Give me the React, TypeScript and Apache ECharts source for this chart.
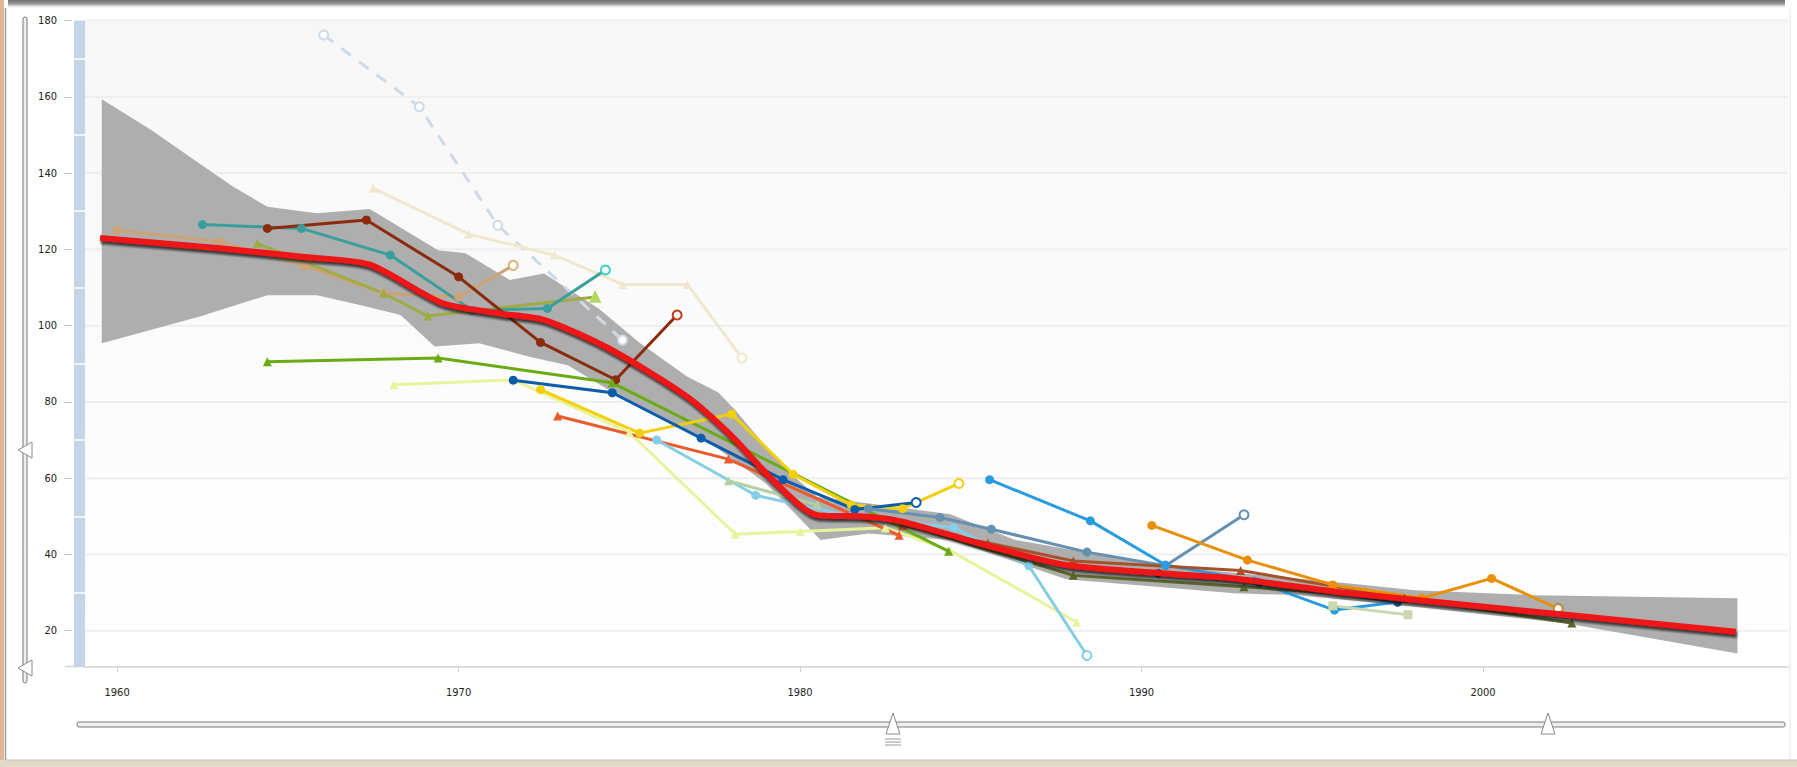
import React, { useEffect, useRef } from "react";
import * as echarts from "echarts";

// ---------- axis ranges & ticks ----------
const X_MIN = 1959.06;
const X_MAX = 2008.93;
const Y_MIN = 10.6;
const Y_MAX = 180;
const xTickYears = [1960, 1970, 1980, 1990, 2000];
const yTickValues = [20, 40, 60, 80, 100, 120, 140, 160, 180];
const barSeparatorValues = [30, 50, 70, 90, 110, 130, 150, 170];

// ---------- confidence band ----------
const bandUpper = [
  [1959.55, 159.4], [1961.0, 151.3], [1962.4, 142.6], [1963.4, 136.4], [1964.4, 131.2],
  [1965.85, 129.5], [1967.4, 130.6], [1969.4, 119.8], [1970.2, 119.0], [1971.5, 112.0],
  [1972.5, 113.7], [1974.1, 104.5], [1975.3, 95.5], [1976.7, 86.6], [1977.6, 82.5],
  [1978.1, 77.9], [1979.5, 63.0], [1980.5, 55.1], [1983.25, 51.9], [1984.4, 50.5],
  [1986.3, 43.8], [1990.7, 36.8], [1996.1, 32.4], [1998.0, 30.6], [2001.5, 29.3],
  [2007.45, 28.5],
];
const bandLower = [
  [1959.55, 95.4], [1962.4, 102.3], [1964.4, 108.0], [1965.85, 108.0], [1967.3, 105.0],
  [1968.3, 102.8], [1969.3, 94.5], [1970.6, 95.4], [1972.1, 91.8], [1973.2, 89.6],
  [1974.4, 83.1], [1977.1, 70.9], [1979.0, 58.6], [1980.6, 43.8], [1982.0, 45.5],
  [1984.4, 43.8], [1987.8, 33.5], [1992.7, 29.8], [1994.6, 29.3], [1998.0, 26.3],
  [2002.45, 21.9], [2007.45, 14.0],
];

// ---------- mean curve ----------
const meanCurve = [
  [1959.5, 123.0], [1963.0, 120.3], [1965.5, 118.0], [1967.4, 116.0], [1969.5, 106.0],
  [1971.2, 103.2], [1972.5, 101.5], [1974.4, 94.0], [1976.7, 81.3], [1978.0, 71.0],
  [1979.2, 59.5], [1980.5, 50.3], [1982.0, 49.9], [1983.0, 48.6], [1985.4, 42.5],
  [1987.8, 37.2], [1990.7, 35.0], [1992.7, 33.7], [1994.6, 31.5], [1996.1, 29.8],
  [2002.5, 24.1], [2007.4, 19.7],
];

// ---------- individual series ----------
const tanSeries = [[1960.0, 125.0], [1963.0, 122.0], [1965.5, 115.7], [1967.8, 108.5], [1970.0, 107.5], [1971.6, 115.8]];
const oliveSeries = [[1964.1, 121.6], [1967.8, 108.5], [1969.1, 102.5], [1974.0, 107.5]];
const tealSeries = [[1962.5, 126.5], [1965.4, 125.5], [1968.0, 118.5], [1970.4, 104.0], [1972.6, 104.5], [1974.3, 114.6]];
const maroonSeries = [[1964.4, 125.5], [1967.3, 127.7], [1970.0, 112.8], [1972.4, 95.6], [1974.6, 85.8], [1976.4, 102.8]];
const beigeSeries = [[1967.5, 136.0], [1970.3, 124.0], [1972.8, 118.5], [1974.8, 110.8], [1976.7, 110.8], [1978.3, 91.5]];
const dashedSeries = [[1966.05, 176.2], [1968.85, 157.4], [1971.15, 126.3], [1974.8, 96.2]];
const greenSeries = [[1964.4, 90.5], [1969.4, 91.5], [1974.5, 85.0], [1984.35, 40.8]];
const blueSeries = [[1971.6, 85.7], [1974.5, 82.4], [1977.1, 70.5], [1979.5, 59.6], [1981.6, 51.8], [1983.4, 53.6]];
const yellowSeries = [[1972.4, 83.2], [1975.3, 71.8], [1978.0, 76.8], [1979.8, 61.0], [1981.5, 53.0], [1983.0, 52.0], [1984.65, 58.6]];
const orangeRedSeries = [[1972.9, 76.3], [1977.9, 65.0], [1982.9, 45.0]];
const lightCyanSeries = [[1975.8, 70.0], [1978.7, 55.5], [1981.5, 50.0], [1984.5, 47.0], [1986.7, 37.0], [1988.4, 13.5]];
const paleGreenSeries = [[1968.1, 84.5], [1971.6, 85.8], [1975.0, 72.0], [1978.1, 45.3], [1980.0, 46.0], [1982.5, 47.0], [1984.4, 41.0], [1988.1, 22.2]];
const sageSeries = [[1977.9, 59.3], [1980.5, 53.0]];
const steelSeries = [[1982.0, 52.0], [1984.1, 49.7], [1985.6, 46.6], [1988.4, 40.6], [1990.7, 37.0], [1993.0, 50.4]];
const brightBlueSeries = [[1985.55, 59.6], [1988.5, 48.8], [1990.7, 37.2], [1993.3, 33.0], [1995.65, 25.4], [1997.5, 27.5]];
const orangeSeries = [[1990.3, 47.6], [1993.1, 38.5], [1995.6, 32.0], [1998.2, 28.5], [2000.25, 33.7], [2002.2, 25.8]];
const brownSeries = [[1983.0, 47.5], [1985.5, 43.0], [1988.0, 38.3], [1992.9, 35.8], [1997.7, 28.5]];
const darkOliveSeries = [[1983.0, 48.0], [1988.0, 34.5], [1993.0, 31.5], [1997.7, 28.5], [2002.6, 22.0]];
const navySeries = [[1990.5, 35.0], [1993.45, 32.5], [1997.5, 27.5]];
const paleSageSeries = [[1995.6, 26.5], [1997.8, 24.2]];

type Def = {
  name: string;
  data: number[][];
  color: string;
  symbol: string;
  openEnd?: boolean;
  endColor?: string;
  dashed?: boolean;
  width?: number;
  size?: number;
};

const defs: Def[] = [
  { name: "dashed", data: dashedSeries, color: "#cddbe8", symbol: "emptyCircle", dashed: true, openEnd: true },
  { name: "beige", data: beigeSeries, color: "#f0e8cc", symbol: "triangle", openEnd: true },
  { name: "tan", data: tanSeries, color: "#cba377", symbol: "circle", openEnd: true, endColor: "#dcb27a" },
  { name: "olive", data: oliveSeries, color: "#9fab45", symbol: "triangle", endColor: "#b5d860" },
  { name: "teal", data: tealSeries, color: "#3a9f9c", symbol: "circle", openEnd: true, endColor: "#3fd0c2" },
  { name: "maroon", data: maroonSeries, color: "#8c2a0c", symbol: "circle", openEnd: true, endColor: "#c43a18" },
  { name: "paleGreen", data: paleGreenSeries, color: "#e9f39e", symbol: "triangle" },
  { name: "green", data: greenSeries, color: "#6aab14", symbol: "triangle" },
  { name: "orangeRed", data: orangeRedSeries, color: "#ea5a2a", symbol: "triangle" },
  { name: "lightCyan", data: lightCyanSeries, color: "#86cde6", symbol: "circle", openEnd: true },
  { name: "sage", data: sageSeries, color: "#b4cfa2", symbol: "triangle" },
  { name: "yellow", data: yellowSeries, color: "#f3cf0a", symbol: "circle", openEnd: true },
  { name: "blue", data: blueSeries, color: "#0b5dab", symbol: "circle", openEnd: true },
  { name: "steel", data: steelSeries, color: "#6590b0", symbol: "circle", openEnd: true },
  { name: "brightBlue", data: brightBlueSeries, color: "#2b9be0", symbol: "circle" },
  { name: "paleSage", data: paleSageSeries, color: "#cbd7ae", symbol: "rect" },
  { name: "darkOlive", data: darkOliveSeries, color: "#58662a", symbol: "triangle" },
  { name: "brown", data: brownSeries, color: "#a5512a", symbol: "triangle" },
  { name: "navy", data: navySeries, color: "#164c7e", symbol: "circle" },
  { name: "orange", data: orangeSeries, color: "#e8900c", symbol: "circle", openEnd: true, endColor: "#c08a2a" },
];

const FONT = "'DejaVu Sans Condensed', 'Liberation Sans Narrow', 'Noto Sans', sans-serif";

function buildLine(d: Def) {
  const n = d.data.length;
  return {
    name: d.name,
    type: "line",
    xAxisIndex: 0,
    yAxisIndex: 0,
    symbol: d.symbol,
    symbolSize: d.size ?? 9,
    showSymbol: true,
    lineStyle: { color: d.color, width: d.width ?? 3, type: d.dashed ? [12, 10] : "solid" },
    itemStyle: { color: d.color },
    data: d.data.map((p, i) => {
      if (i === n - 1 && (d.openEnd || d.endColor)) {
        const c = d.endColor ?? d.color;
        return {
          value: p,
          symbol: d.openEnd ? "emptyCircle" : d.symbol,
          itemStyle: { color: c, borderColor: c, borderWidth: 2.2 },
        };
      }
      return p;
    }),
    z: 2,
  };
}

function buildOption() {
  const gridLineSeries = {
    type: "custom",
    name: "gridlines",
    z: 1,
    silent: true,
    data: yTickValues.map((v) => [X_MIN, v]),
    renderItem: (params: any, api: any) => {
      const y = api.coord([X_MIN, api.value(1)])[1];
      const cs = params.coordSys;
      return {
        type: "line",
        shape: { x1: cs.x, y1: y, x2: cs.x + cs.width, y2: y },
        style: { stroke: "#eeeeee", lineWidth: 2 },
      };
    },
  };

  const bandSeries = {
    type: "custom",
    name: "band",
    z: 1,
    silent: true,
    data: [bandUpper[0]],
    renderItem: (params: any, api: any) => {
      if (params.dataIndex !== 0) return null;
      const pts = bandUpper
        .map((p) => api.coord(p))
        .concat(bandLower.slice().reverse().map((p) => api.coord(p)));
      return { type: "polygon", shape: { points: pts }, style: { fill: "#aaaaaa", opacity: 0.95 } };
    },
  };

  const meanSeries = {
    name: "mean",
    type: "line",
    data: meanCurve,
    symbol: "none",
    smooth: 0.25,
    z: 4,
    lineStyle: {
      color: "#ee1212",
      width: 6,
      shadowColor: "rgba(20,20,20,0.75)",
      shadowOffsetY: 3,
      shadowOffsetX: 1,
      shadowBlur: 2,
    },
  };

  const graphic = [
    { type: "rect", shape: { x: 0, y: 0, width: 4, height: 767 }, style: { fill: "#e3b698" }, silent: true },
    { type: "line", shape: { x1: 5.5, y1: 8, x2: 5.5, y2: 761 }, style: { stroke: "#a0a0a0", lineWidth: 1.5 }, silent: true },
    {
      type: "rect",
      shape: { x: 8, y: 0, width: 1777, height: 9 },
      style: {
        fill: new echarts.graphic.LinearGradient(0, 0, 0, 1, [
          { offset: 0, color: "#6e6e6e" },
          { offset: 0.45, color: "#9a9a9a" },
          { offset: 1, color: "rgba(255,255,255,0)" },
        ]),
      },
      silent: true,
    },
    { type: "rect", shape: { x: 0, y: 760, width: 1797, height: 7 }, style: { fill: "#e2dac6" }, silent: true },
    { type: "line", shape: { x1: 6, y1: 760, x2: 1797, y2: 760 }, style: { stroke: "#bdbdbd", lineWidth: 1 }, silent: true },
    { type: "line", shape: { x1: 1790, y1: 8, x2: 1790, y2: 760 }, style: { stroke: "#e4e4e4", lineWidth: 1 }, silent: true },
    // left vertical slider
    { type: "rect", shape: { x: 23, y: 17, width: 4, height: 666, r: 2 }, style: { fill: "#efefef", stroke: "#7a7a7a", lineWidth: 1 }, silent: true },
    { type: "polygon", shape: { points: [[18, 450], [32, 442], [32, 458]] }, style: { fill: "#ffffff", stroke: "#8a8a8a", lineWidth: 1 }, silent: true },
    { type: "polygon", shape: { points: [[18, 668], [32, 660], [32, 676]] }, style: { fill: "#ffffff", stroke: "#8a8a8a", lineWidth: 1 }, silent: true },
    // x axis extension to the left
    { type: "line", shape: { x1: 65, y1: 666.5, x2: 85, y2: 666.5 }, style: { stroke: "#d2d2d2", lineWidth: 1.5 }, silent: true },
    // bottom slider
    { type: "rect", shape: { x: 77, y: 722, width: 1708, height: 5, r: 2 }, style: { fill: "#efefef", stroke: "#7a7a7a", lineWidth: 1 }, silent: true },
    { type: "polygon", shape: { points: [[893, 713], [886, 734], [900, 734]] }, style: { fill: "#ffffff", stroke: "#8a8a8a", lineWidth: 1 }, silent: true },
    { type: "polygon", shape: { points: [[1548, 713], [1541, 734], [1555, 734]] }, style: { fill: "#ffffff", stroke: "#8a8a8a", lineWidth: 1 }, silent: true },
    { type: "line", shape: { x1: 885, y1: 739, x2: 901, y2: 739 }, style: { stroke: "#9a9a9a", lineWidth: 1 }, silent: true },
    { type: "line", shape: { x1: 885, y1: 742, x2: 901, y2: 742 }, style: { stroke: "#9a9a9a", lineWidth: 1 }, silent: true },
    { type: "line", shape: { x1: 885, y1: 745, x2: 901, y2: 745 }, style: { stroke: "#9a9a9a", lineWidth: 1 }, silent: true },
  ];

  return {
    animation: false,
    backgroundColor: "#ffffff",
    textStyle: { fontFamily: FONT },
    grid: {
      left: 85,
      right: 9,
      top: 20.6,
      bottom: 100.5,
      show: true,
      borderWidth: 0,
      backgroundColor: new echarts.graphic.LinearGradient(0, 0, 0, 1, [
        { offset: 0, color: "#f7f7f7" },
        { offset: 0.5, color: "#fbfbfb" },
        { offset: 1, color: "#ffffff" },
      ]),
    },
    xAxis: {
      type: "value",
      min: X_MIN,
      max: X_MAX,
      splitLine: { show: false },
      axisLine: { show: true, lineStyle: { color: "#d2d2d2", width: 1.5 } },
      axisTick: { show: true, length: 6, lineStyle: { color: "#d0d0d0" }, customValues: xTickYears },
      axisLabel: {
        customValues: xTickYears,
        margin: 20,
        fontSize: 11,
        color: "#222",
        fontFamily: FONT,
        formatter: (v: number) => String(Math.round(v)),
      },
    },
    yAxis: [
      {
        type: "value",
        min: Y_MIN,
        max: Y_MAX,
        position: "left",
        offset: 13,
        splitLine: { show: false },
        axisLine: { show: false },
        axisTick: { show: true, length: 8, lineStyle: { color: "#c8c8c8" }, customValues: yTickValues },
        axisLabel: {
          customValues: yTickValues,
          margin: 15,
          fontSize: 11,
          color: "#222",
          fontFamily: FONT,
          formatter: (v: number) => String(Math.round(v)),
        },
      },
      {
        type: "value",
        min: Y_MIN,
        max: Y_MAX,
        position: "left",
        offset: 5.5,
        z: 1,
        splitLine: { show: false },
        axisLine: { show: true, lineStyle: { color: "#c3d5e7", width: 11, cap: "butt" } },
        axisTick: { show: false },
        axisLabel: { show: false },
      },
      {
        type: "value",
        min: Y_MIN,
        max: Y_MAX,
        position: "left",
        offset: 11,
        z: 3,
        splitLine: { show: false },
        axisLine: { show: false },
        axisTick: { show: true, inside: true, length: 11, lineStyle: { color: "#ffffff", width: 1.5 }, customValues: barSeparatorValues },
        axisLabel: { show: false },
      },
    ],
    graphic,
    series: [gridLineSeries, bandSeries, ...defs.map(buildLine), meanSeries],
  };
}

export default function App() {
  const ref = useRef<HTMLDivElement>(null);
  useEffect(() => {
    if (!ref.current) return;
    const chart = echarts.init(ref.current, null, { renderer: "svg" });
    chart.setOption(buildOption() as any);
    return () => chart.dispose();
  }, []);
  return (
    <div
      ref={ref}
      style={{ position: "fixed", left: 0, top: 0, width: 1797, height: 767, background: "#fff" }}
    />
  );
}
